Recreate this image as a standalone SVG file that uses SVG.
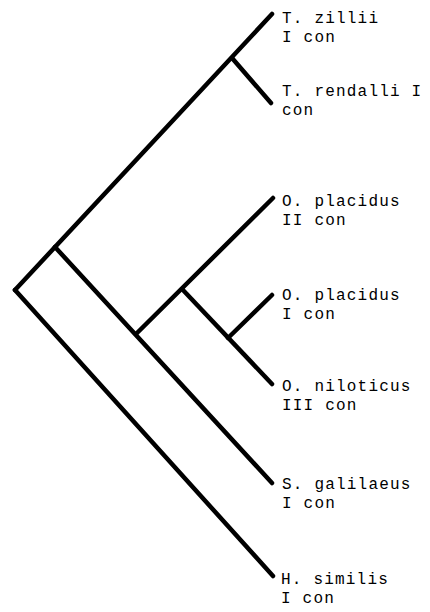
<svg xmlns="http://www.w3.org/2000/svg" width="430" height="612" viewBox="0 0 430 612">
  <style>
    .br { fill: none; stroke: #000; stroke-width: 4.5; stroke-linecap: round; stroke-linejoin: round; }
    .lbl { font-family: "Liberation Mono", "Courier New", monospace; font-size: 16px; letter-spacing: 1.2px; fill: #000; }
  </style>
  <rect width="430" height="612" fill="#fff"/>

  <!-- branches of the tree -->
  <g id="branches">
    <line class="br" x1="15" y1="290" x2="272" y2="14"/>
    <line class="br" x1="232" y1="58" x2="271" y2="103"/>
    <line class="br" x1="15" y1="290" x2="273" y2="576"/>
    <line class="br" x1="55" y1="247" x2="272" y2="483"/>
    <line class="br" x1="136" y1="334" x2="273" y2="198"/>
    <line class="br" x1="182" y1="289" x2="272" y2="384"/>
    <line class="br" x1="228" y1="338" x2="272" y2="295"/>
  </g>

  <!-- terminal taxa -->
  <g id="t-zillii">
    <text class="lbl" x="282" y="23">T. zillii</text>
    <text class="lbl" x="282" y="42">I con</text>
  </g>
  <g id="t-rendalli">
    <text class="lbl" x="282" y="96">T. rendalli I</text>
    <text class="lbl" x="282" y="115">con</text>
  </g>
  <g id="o-placidus-ii">
    <text class="lbl" x="282" y="206">O. placidus</text>
    <text class="lbl" x="282" y="225">II con</text>
  </g>
  <g id="o-placidus-i">
    <text class="lbl" x="282" y="300">O. placidus</text>
    <text class="lbl" x="282" y="319">I con</text>
  </g>
  <g id="o-niloticus">
    <text class="lbl" x="282" y="391">O. niloticus</text>
    <text class="lbl" x="282" y="410">III con</text>
  </g>
  <g id="s-galilaeus">
    <text class="lbl" x="282" y="489">S. galilaeus</text>
    <text class="lbl" x="282" y="508">I con</text>
  </g>
  <g id="h-similis">
    <text class="lbl" x="281" y="584">H. similis</text>
    <text class="lbl" x="281" y="603">I con</text>
  </g>
</svg>
